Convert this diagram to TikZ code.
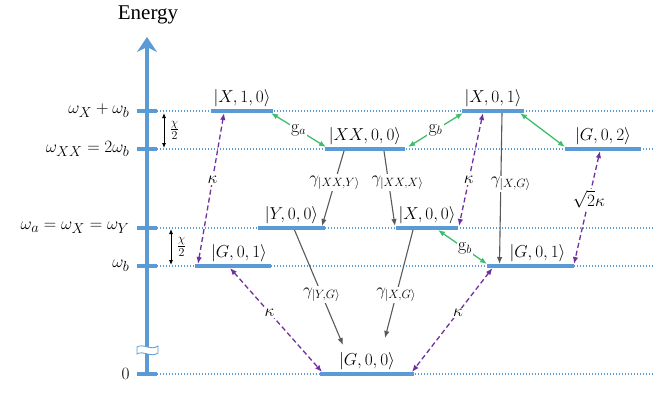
\documentclass[tikz,border=0pt]{standalone}
\usepackage{amsmath,amssymb,amsfonts}
\usepackage{fontspec}
\newfontfamily\axisfont{Liberation Serif}
\usetikzlibrary{arrows.meta}

\definecolor{lvlblue}{HTML}{5B9BD5}
\definecolor{kappurple}{HTML}{7030A0}
\definecolor{cplgreen}{HTML}{3CBF6A}
\definecolor{decgray}{HTML}{595959}

\begin{document}
\begin{tikzpicture}[
    x=1pt, y=-1pt,
    font=\fontsize{18}{21}\selectfont,
    >={Latex[length=7pt,width=5.5pt]},
    lvl/.style={fill=lvlblue, minimum height=4pt, inner sep=0pt, outer sep=0pt},
    state/.style={inner sep=1.5pt},
    tickmark/.style={fill=lvlblue, minimum width=20pt, minimum height=3.5pt,
                     inner sep=0pt, outer sep=0pt},
    ticklab/.style={anchor=east, font=\fontsize{19}{22}\selectfont},
    levline/.style={lvlblue, line width=1.3pt, dash pattern=on 1.3pt off 1.7pt},
    kap/.style={<->, kappurple, line width=1.3pt, dash pattern=on 5pt off 3pt},
    cpl/.style={<->, cplgreen, line width=1.3pt},
    dec/.style={->, decgray, line width=1.1pt},
    tag/.style={fill=white, text=black, inner sep=1.5pt}
]
    \useasboundingbox (0,0) rectangle (654,394);

    % Axis with its ticks and dotted levels
    \foreach \lv/\nm/\lab in {111/a/{$\omega_X+\omega_b$}, 149/b/{$\omega_{XX}=2\omega_b$},
                              228/c/{$\omega_a=\omega_X=\omega_Y$}, 266/d/{$\omega_b$}, 374/e/{$0$}}{
        \node[tickmark] (tk\nm) at (147,\lv) {};
        \draw[levline] (tk\nm.east) -- (654,\lv);
        \node[ticklab] (lab\nm) at (133,\lv) {\lab};
    }
    \coordinate (top) at (147,37);
    \draw[lvlblue, line width=3.5pt, -{Stealth[length=15pt,width=20pt]}] (tke.center) -- (top);
    \node[font=\axisfont\fontsize{21}{24}\selectfont] (energy) at (148,15) {Energy};
    % axis break
    \draw[lvlblue, fill=white, line width=0.8pt]
        (137,347) .. controls (143,343) and (151,351) .. (158,346) -- (158,353)
        .. controls (151,358) and (143,350) .. (137,354) -- cycle;

    % chi/2 spacings
    \coordinate (ch1t) at (164,113);
    \coordinate (ch1b) at (164,148);
    \coordinate (ch2t) at (171,229);
    \coordinate (ch2b) at (171,265);
    \draw[<->, line width=0.8pt, >={Latex[length=5pt,width=4pt]}] (ch1t) -- node[right, xshift=2pt] {$\frac{\chi}{2}$} (ch1b);
    \draw[<->, line width=0.8pt, >={Latex[length=5pt,width=4pt]}] (ch2t) -- node[right, xshift=2pt] {$\frac{\chi}{2}$} (ch2b);

    % Levels
    \node[lvl, minimum width=62pt, label={[state]above:{$|X,1,0\rangle$}}] (X10) at (242,111) {};
    \node[lvl, minimum width=80pt, label={[state]above:{$|XX,0,0\rangle$}}] (XX00) at (365,149) {};
    \node[lvl, minimum width=62pt, label={[state]above:{$|X,0,1\rangle$}}] (X01) at (493,111) {};
    \node[lvl, minimum width=76pt, label={[state]above:{$|G,0,2\rangle$}}] (G02) at (603,149) {};
    \node[lvl, minimum width=67pt, label={[state]above:{$|Y,0,0\rangle$}}] (Y00) at (291.5,228) {};
    \node[lvl, minimum width=62pt, label={[state]above:{$|X,0,0\rangle$}}] (X00) at (427,228) {};
    \node[lvl, minimum width=76pt, label={[state, xshift=6pt]above:{$|G,0,1\rangle$}}] (G01a) at (233,266) {};
    \node[lvl, minimum width=87pt, label={[state, xshift=7pt]above:{$|G,0,1\rangle$}}] (G01b) at (530.5,266) {};
    \node[lvl, minimum width=94pt, label={[state]above:{$|G,0,0\rangle$}}] (G00) at (367,374) {};

    % Cavity losses
    \draw[kap] ([xshift=-35pt]G01a.north) -- node[tag, pos=0.56] {$\kappa$} ([xshift=-18pt]X10.south);
    \draw[kap] ([xshift=-10pt]X01.south) -- node[tag, pos=0.59] {$\kappa$} ([xshift=1pt]X00.north east);
    \draw[kap] ([xshift=-3pt]G02.south) -- node[tag, pos=0.43] {$\sqrt{2}\kappa$} (G01b.north east);
    \draw[kap] ([xshift=-3pt]G01a.south) -- node[tag, pos=0.43] {$\kappa$} ([xshift=2pt]G00.north west);
    \draw[kap] ([xshift=-38pt]G01b.south) -- node[tag, pos=0.43] {$\kappa$} ([xshift=-2pt]G00.north east);

    % Couplings
    \draw[cpl] ([xshift=-2pt]X10.south east) -- node[tag] {$\mathrm{g}_a$} ([xshift=1pt]XX00.north west);
    \draw[cpl] ([xshift=-30pt]X01.south) -- node[tag] {$\mathrm{g}_b$} ([xshift=3pt]XX00.north east);
    \draw[cpl] ([xshift=27pt]X01.south) -- (G02.north west);
    \draw[cpl] ([xshift=11pt]X00.south) -- node[tag, pos=0.55] {$\mathrm{g}_b$} (G01b.north west);

    % Radiative decays
    \draw[dec] ([xshift=-21pt]XX00.south) -- node[tag, pos=0.42] {$\gamma_{|XX,Y\rangle}$} ([xshift=-3pt]Y00.north east);
    \draw[dec] ([xshift=19pt]XX00.south) -- node[tag, pos=0.42, xshift=9pt] {$\gamma_{|XX,X\rangle}$} ([xshift=-1pt]X00.north west);
    \draw[dec] ([xshift=9pt]X01.south) -- node[tag, pos=0.47, xshift=10pt] {$\gamma_{|X,G\rangle}$} ([xshift=-31pt]G01b.north);
    \draw[dec] ([xshift=3pt]Y00.south) -- node[tag, pos=0.56] {$\gamma_{|Y,G\rangle}$} ([xshift=-24pt,yshift=27pt]G00.north);
    \draw[dec] ([xshift=-14pt]X00.south) -- node[tag, pos=0.6] {$\gamma_{|X,G\rangle}$} ([xshift=18pt,yshift=34pt]G00.north);
\end{tikzpicture}
\end{document}
